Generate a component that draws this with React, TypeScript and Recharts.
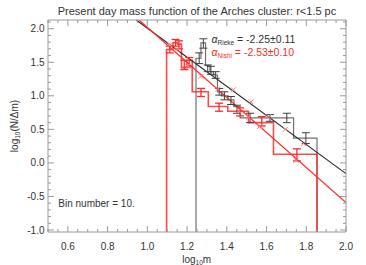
import React from 'react';
import { ComposedChart, Line, Scatter, ErrorBar, XAxis, YAxis } from 'recharts';

const W = 366;
const H = 265;
const X_DOMAIN: [number, number] = [0.5, 2.0];
const Y_DOMAIN: [number, number] = [-1.03, 2.13];

const xTickLabels = [0.6, 0.8, 1.0, 1.2, 1.4, 1.6, 1.8, 2.0];
const yTickLabels = [-1.0, -0.5, 0.0, 0.5, 1.0, 1.5, 2.0];

// Rieke sample (black): histogram bin edges and log10(N/dm) per bin
const riekeEdges = [1.245, 1.27, 1.293, 1.315, 1.333, 1.353, 1.373, 1.406, 1.436, 1.467, 1.736, 1.854];
const riekeBins = [1.56, 1.79, 1.45, 1.36, 1.31, 1.06, 1.0, 0.94, 0.84, 0.67, 0.37];

// Nishi sample (red)
const nishiEdges = [1.097, 1.129, 1.152, 1.172, 1.199, 1.226, 1.307, 1.405, 1.509, 1.635, 1.854];
const nishiBins = [1.69, 1.79, 1.77, 1.42, 1.53, 1.06, 0.84, 0.77, 0.6, 0.13];

// points with error bars
const riekeX = [1.261, 1.282, 1.304, 1.32, 1.344, 1.362, 1.388, 1.421, 1.451, 1.517, 1.617, 1.702, 1.798];
const riekeY = [1.56, 1.78, 1.41, 1.38, 1.31, 1.06, 1.0, 0.93, 0.8, 0.67, 0.67, 0.67, 0.37];
const riekeErr = [0.08, 0.07, 0.05, 0.06, 0.05, 0.05, 0.06, 0.06, 0.06, 0.07, 0.05, 0.07, 0.08];

const nishiX = [1.113, 1.142, 1.159, 1.186, 1.211, 1.27, 1.361, 1.467, 1.576, 1.753];
const nishiY = [1.69, 1.79, 1.76, 1.46, 1.5, 1.05, 0.83, 0.76, 0.62, 0.12];
const nishiErr = [0.05, 0.05, 0.06, 0.07, 0.07, 0.06, 0.06, 0.06, 0.07, 0.09];

// light red crosses
const crossX = [1.113, 1.149, 1.203, 1.27, 1.354, 1.433, 1.46, 1.51, 1.522, 1.564, 1.609, 1.695, 1.749, 1.786];
const crossY = [1.76, 1.69, 1.44, 1.29, 1.1, 1.09, 0.78, 0.68, 0.91, 0.54, 0.69, 0.5, 0.04, 0.29];

// power-law fits, end points
const riekeFitX = [0.944, 2.0];
const riekeFitY = [2.13, -0.16];
const nishiFitX = [0.958, 2.0];
const nishiFitY = [2.13, -0.59];

const FRAME = '#9a9a9a';
const TEXT = '#333';
const RED = '#ff2a2a';

const steps = (from: number, to: number, step: number) => {
  const out: number[] = [];
  for (let v = from; v <= to + 1e-9; v += step) out.push(Math.round(v * 100) / 100);
  return out;
};
const xTicks = steps(0.5, 2.0, 0.05);
const yTicks = steps(-1.0, 2.1, 0.1);

const isMajor = (v: number, majors: number[]) => majors.some((m) => Math.abs(m - v) < 1e-6);

const histo = (edges: number[], vals: number[]) => {
  const floor = Y_DOMAIN[0];
  const pts = [{ x: edges[0], y: floor }];
  vals.forEach((v, i) => pts.push({ x: edges[i], y: v }));
  pts.push({ x: edges[edges.length - 1], y: floor });
  return pts;
};
const zip = (xs: number[], ys: number[], es?: number[]) =>
  xs.map((x, i) => ({ x, y: ys[i], e: es ? es[i] : 0 }));

const riekeHist = histo(riekeEdges, riekeBins);
const nishiHist = histo(nishiEdges, nishiBins);
const riekePts = zip(riekeX, riekeY, riekeErr);
const nishiPts = zip(nishiX, nishiY, nishiErr);
const crossPts = zip(crossX, crossY);
const riekeFit = zip(riekeFitX, riekeFitY);
const nishiFit = zip(nishiFitX, nishiFitY);

const BottomTick = (p: any) => {
  const major = isMajor(p.payload.value, xTickLabels);
  return (
    <g>
      <line x1={p.x} x2={p.x} y1={p.y} y2={p.y - (major ? 6 : 3)} stroke={FRAME} />
      {major && (
        <text x={p.x} y={p.y + 17.5} textAnchor="middle" fontSize={10} fill={TEXT}>
          {p.payload.value.toFixed(1)}
        </text>
      )}
    </g>
  );
};
const TopTick = (p: any) => {
  const major = isMajor(p.payload.value, xTickLabels);
  return <line x1={p.x} x2={p.x} y1={p.y} y2={p.y + (major ? 6 : 3)} stroke={FRAME} />;
};
const LeftTick = (p: any) => {
  const major = isMajor(p.payload.value, yTickLabels);
  return (
    <g>
      <line x1={p.x} x2={p.x + (major ? 6 : 3)} y1={p.y} y2={p.y} stroke={FRAME} />
      {major && (
        <text x={p.x - 3.5} y={p.y + 3.6} textAnchor="end" fontSize={10} fill={TEXT}>
          {p.payload.value.toFixed(1)}
        </text>
      )}
    </g>
  );
};
const RightTick = (p: any) => {
  const major = isMajor(p.payload.value, yTickLabels);
  return <line x1={p.x} x2={p.x - (major ? 6 : 3)} y1={p.y} y2={p.y} stroke={FRAME} />;
};

const Cross = (p: any) => {
  const { cx, cy } = p;
  return (
    <g stroke="#ff8080" strokeWidth={1}>
      <line x1={cx - 2.5} y1={cy - 2.5} x2={cx + 2.5} y2={cy + 2.5} />
      <line x1={cx - 2.5} y1={cy + 2.5} x2={cx + 2.5} y2={cy - 2.5} />
    </g>
  );
};
const NoDot = () => <g />;

const font = '"Liberation Sans", Arial, Helvetica, sans-serif';
const abs = (extra: React.CSSProperties): React.CSSProperties => ({
  position: 'absolute',
  whiteSpace: 'nowrap',
  lineHeight: 1,
  ...extra,
});

export default function App() {
  return (
    <div style={{ position: 'absolute', left: 0, top: 0, width: W, height: H, fontFamily: font, background: '#fff' }}>
      <ComposedChart width={W} height={H} margin={{ top: 0, right: 0, bottom: 0, left: 0 }}>
        <XAxis
          xAxisId="b"
          type="number"
          dataKey="x"
          domain={X_DOMAIN}
          allowDataOverflow
          ticks={xTicks}
          interval={0}
          tickSize={0}
          tickMargin={0}
          tickLine={false}
          tick={BottomTick}
          axisLine={{ stroke: FRAME }}
          height={33}
        />
        <XAxis
          xAxisId="t"
          orientation="top"
          type="number"
          dataKey="x"
          domain={X_DOMAIN}
          allowDataOverflow
          ticks={xTicks}
          interval={0}
          tickSize={0}
          tickMargin={0}
          tickLine={false}
          tick={TopTick}
          axisLine={{ stroke: FRAME }}
          height={20}
        />
        <YAxis
          yAxisId="l"
          type="number"
          dataKey="y"
          domain={Y_DOMAIN}
          allowDataOverflow
          ticks={yTicks}
          interval={0}
          tickSize={0}
          tickMargin={0}
          tickLine={false}
          tick={LeftTick}
          axisLine={{ stroke: FRAME }}
          width={48}
        />
        <YAxis
          yAxisId="r"
          orientation="right"
          type="number"
          dataKey="y"
          domain={Y_DOMAIN}
          allowDataOverflow
          ticks={yTicks}
          interval={0}
          tickSize={0}
          tickMargin={0}
          tickLine={false}
          tick={RightTick}
          axisLine={{ stroke: FRAME }}
          width={20}
        />

        <Line xAxisId="b" yAxisId="l" data={riekeHist} dataKey="y" type="stepAfter" stroke="#707070"
          strokeWidth={1.2} dot={false} isAnimationActive={false} />
        <Line xAxisId="b" yAxisId="l" data={nishiHist} dataKey="y" type="stepAfter" stroke={RED}
          strokeWidth={1.6} strokeOpacity={0.85} dot={false} isAnimationActive={false} />
        <Line xAxisId="b" yAxisId="l" data={riekeFit} dataKey="y" type="linear" stroke="#2a2a2a"
          strokeWidth={1.2} dot={false} isAnimationActive={false} />
        <Line xAxisId="b" yAxisId="l" data={nishiFit} dataKey="y" type="linear" stroke={RED}
          strokeWidth={1.2} dot={false} isAnimationActive={false} />

        <Scatter xAxisId="b" yAxisId="l" data={crossPts} dataKey="y" shape={Cross} isAnimationActive={false} />
        <Scatter xAxisId="b" yAxisId="l" data={riekePts} dataKey="y" shape={NoDot} isAnimationActive={false}>
          <ErrorBar dataKey="e" direction="y" width={4} stroke="#404040" strokeWidth={1} />
        </Scatter>
        <Scatter xAxisId="b" yAxisId="l" data={nishiPts} dataKey="y" shape={NoDot} isAnimationActive={false}>
          <ErrorBar dataKey="e" direction="y" width={4} stroke={RED} strokeWidth={1.3} />
        </Scatter>
      </ComposedChart>

      <div style={abs({ left: -3, width: 400, top: 6.3, textAlign: 'center', fontSize: 11, color: TEXT })}>
        Present day mass function of the Arches cluster: r&lt;1.5 pc
      </div>
      <div style={abs({ left: 211.5, top: 34, fontSize: 10.5, color: TEXT })}>
        <i>α</i>
        <sub style={{ fontSize: 6.5, verticalAlign: -2 }}>Rieke</sub> = -2.25±0.11
      </div>
      <div style={abs({ left: 211.5, top: 47, fontSize: 10.5, color: RED })}>
        <i>α</i>
        <sub style={{ fontSize: 6.5, verticalAlign: -2 }}>Nishi</sub> = -2.53±0.10
      </div>
      <div style={abs({ left: 58.3, top: 198.5, fontSize: 10, color: TEXT })}>Bin number = 10.</div>
      <div style={abs({ left: 196.7, top: 254.5, transform: 'translateX(-50%)', fontSize: 10, color: TEXT })}>
        log<sub style={{ fontSize: 6.5, verticalAlign: -2 }}>10</sub>m
      </div>
      <div
        style={abs({
          left: 15.5,
          top: 126,
          transform: 'translate(-50%, -50%) rotate(-90deg)',
          fontSize: 10,
          color: TEXT,
        })}
      >
        log<sub style={{ fontSize: 6.5, verticalAlign: -2 }}>10</sub>(N/Δm)
      </div>
    </div>
  );
}
